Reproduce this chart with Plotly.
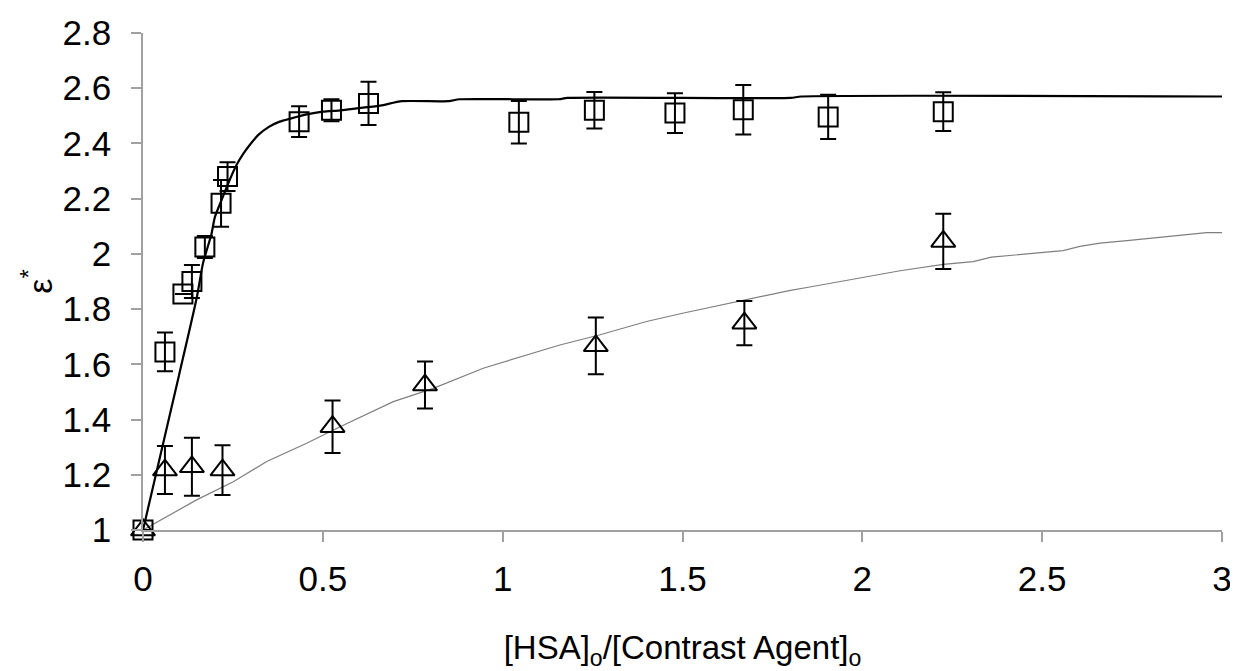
import plotly.graph_objects as go

# Square data (upper series)
sq_x = [0.0, 0.061, 0.111, 0.136, 0.172, 0.217, 0.235, 0.434, 0.524, 0.627, 1.045, 1.255, 1.479, 1.669, 1.905, 2.225]
sq_y = [1.0, 1.645, 1.855, 1.90, 2.025, 2.183, 2.28, 2.479, 2.52, 2.545, 2.477, 2.52, 2.51, 2.522, 2.496, 2.515]
sq_err = [0.0, 0.07, 0.0, 0.06, 0.04, 0.085, 0.052, 0.056, 0.04, 0.078, 0.077, 0.066, 0.072, 0.09, 0.08, 0.07]

# Triangle data (lower series)
tr_x = [0.0, 0.061, 0.136, 0.221, 0.527, 0.784, 1.259, 1.672, 2.225]
tr_y = [1.0, 1.217, 1.229, 1.217, 1.374, 1.525, 1.667, 1.749, 2.045]
tr_err = [0.0, 0.087, 0.105, 0.09, 0.095, 0.085, 0.103, 0.08, 0.1]

# Fitted curve (upper)
fit1_x = [0, 0.05, 0.1, 0.15, 0.167, 0.19, 0.2, 0.22, 0.24, 0.26, 0.28, 0.3, 0.32, 0.35, 0.38, 0.41, 0.455,
          0.5, 0.55, 0.6, 0.66, 0.72, 0.85, 0.88, 1.155, 1.18, 1.8, 1.83, 3.0]
fit1_y = [1.0, 1.28, 1.56, 1.845, 1.967, 2.07, 2.134, 2.2, 2.265, 2.322, 2.365, 2.40, 2.43, 2.46, 2.479, 2.49, 2.505,
          2.515, 2.52, 2.528, 2.537, 2.553, 2.553, 2.56, 2.56, 2.565, 2.565, 2.57, 2.57]

# Fitted curve (lower)
fit2_x = [0, 0.149, 0.251, 0.344, 0.455, 0.548, 0.696, 0.807, 0.946, 1.159, 1.271, 1.4, 1.5, 1.6,
          1.669, 1.8, 1.854, 1.993, 2.105, 2.225, 2.308, 2.359, 2.45, 2.558, 2.605, 2.661, 2.75, 2.855, 2.957, 3.0]
fit2_y = [1.0, 1.109, 1.175, 1.248, 1.314, 1.374, 1.465, 1.513, 1.586, 1.67, 1.707, 1.755, 1.785, 1.813,
          1.833, 1.868, 1.88, 1.912, 1.939, 1.962, 1.972, 1.988, 1.998, 2.012, 2.027, 2.039, 2.05, 2.063, 2.077, 2.077]

x_ticks = [0, 0.5, 1, 1.5, 2, 2.5, 3]
x_labels = ["0", "0.5", "1", "1.5", "2", "2.5", "3"]
y_ticks = [1, 1.2, 1.4, 1.6, 1.8, 2, 2.2, 2.4, 2.6, 2.8]
y_labels = ["1", "1.2", "1.4", "1.6", "1.8", "2", "2.2", "2.4", "2.6", "2.8"]

fig = go.Figure()

fig.add_trace(go.Scatter(x=fit2_x, y=fit2_y, mode="lines",
                         line=dict(color="#7f7f7f", width=1.2), showlegend=False, cliponaxis=False))
fig.add_trace(go.Scatter(x=fit1_x, y=fit1_y, mode="lines", line_shape="spline",
                         line=dict(color="black", width=2.2, smoothing=0.6), showlegend=False, cliponaxis=False))

fig.add_trace(go.Scatter(
    x=sq_x, y=sq_y, mode="markers", showlegend=False, cliponaxis=False,
    marker=dict(symbol="square-open", size=19, color="black", line=dict(width=2, color="black")),
    error_y=dict(type="data", array=sq_err, visible=True, color="black", thickness=2, width=8),
))
fig.add_trace(go.Scatter(
    x=tr_x, y=tr_y, mode="markers", showlegend=False, cliponaxis=False,
    marker=dict(symbol="triangle-up-open", size=21, color="black", line=dict(width=2, color="black")),
    error_y=dict(type="data", array=tr_err, visible=True, color="black", thickness=2, width=8),
))

font_family = "Liberation Sans, Arial, sans-serif"

fig.update_layout(
    width=1230, height=663,
    margin=dict(l=135, r=16, t=25, b=141, autoexpand=False),
    paper_bgcolor="white", plot_bgcolor="white",
    font=dict(family=font_family, color="black"),
    xaxis=dict(
        range=[0, 3], tickvals=x_ticks, ticktext=x_labels, automargin=False,
        showgrid=False, zeroline=False, showline=True, linecolor="#a0a0a0", linewidth=1.5,
        ticks="outside", ticklen=10, tickcolor="#a0a0a0", tickwidth=1.5,
        tickfont=dict(size=35, family=font_family, color="black"),
        ticklabelstandoff=7,
        title=dict(text="[HSA]<sub>o</sub>/[Contrast Agent]<sub>o</sub>",
                   font=dict(size=33, family=font_family, color="black"), standoff=50),
    ),
    yaxis=dict(
        range=[1, 2.8], tickvals=y_ticks, ticktext=y_labels, automargin=False,
        showgrid=False, zeroline=False, showline=True, linecolor="#a0a0a0", linewidth=1.5,
        ticks="outside", ticklen=10, tickcolor="#a0a0a0", tickwidth=1.5,
        tickfont=dict(size=35, family=font_family, color="black"),
        ticklabelstandoff=13,
        title=dict(text="ε<sup>*</sup>", font=dict(size=34, family=font_family, color="black"),
                   standoff=0),
    ),
)

fig.write_html("out.html")
